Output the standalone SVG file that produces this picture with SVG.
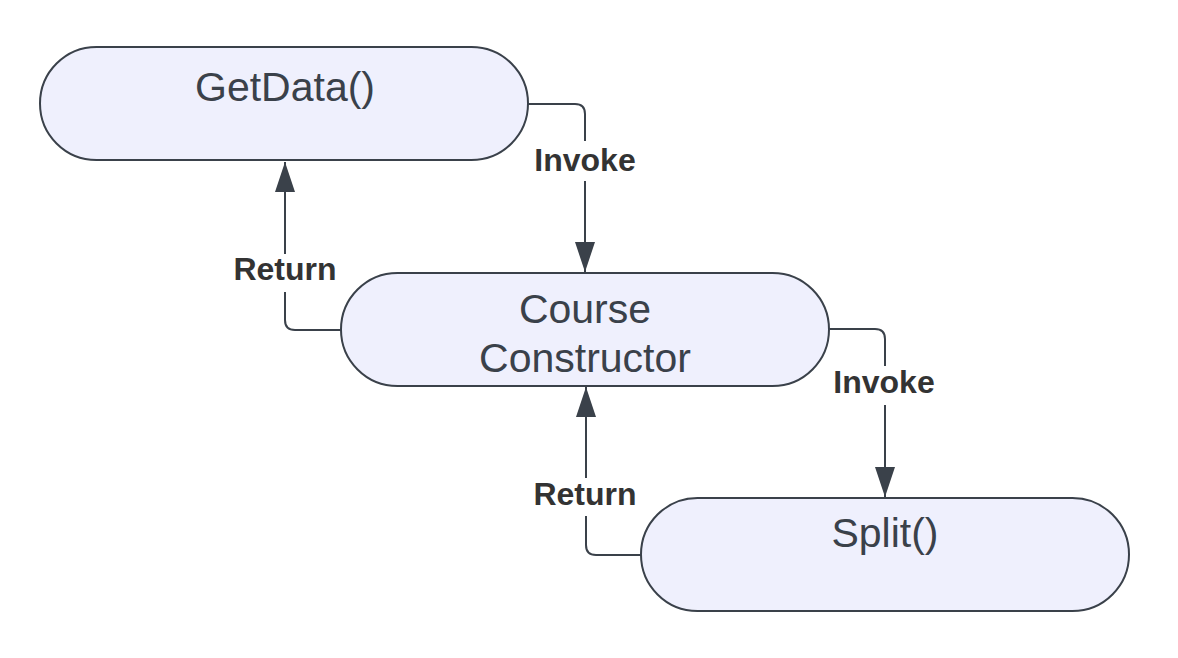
<svg xmlns="http://www.w3.org/2000/svg" width="1178" height="658" viewBox="0 0 1178 658">
<style>
.node{fill:#eff0fd;stroke:#3a414a;stroke-width:2}
.ntext{font-family:"Liberation Sans",Arial,sans-serif;font-size:41px;fill:#3a414a;text-anchor:middle}
.edge{fill:none;stroke:#3a414a;stroke-width:2}
.lbg{fill:#ffffff}
.ltext{font-family:"Liberation Sans",Arial,sans-serif;font-size:32px;font-weight:bold;fill:#333333;text-anchor:middle}
</style>
<defs>
<marker id="arrow" viewBox="0 0 30 20" refX="30" refY="10" markerWidth="30" markerHeight="20" markerUnits="userSpaceOnUse" orient="auto">
<path d="M0,0 L30,10 L0,20 Z" fill="#3a414a"/>
</marker>
</defs>
<rect width="1178" height="658" fill="#ffffff"/>
<g id="connectors">
<path class="edge" d="M528,104 H575 Q585,104 585,114 V272" marker-end="url(#arrow)"/>
<path class="edge" d="M341,330 H295 Q285,330 285,320 V162" marker-end="url(#arrow)"/>
<path class="edge" d="M829,329 H875 Q885,329 885,339 V497" marker-end="url(#arrow)"/>
<path class="edge" d="M641,555 H596 Q586,555 586,545 V387" marker-end="url(#arrow)"/>
<rect class="lbg" x="530" y="141" width="110" height="40"/>
<text class="ltext" x="585" y="171">Invoke</text>
<rect class="lbg" x="228" y="254" width="114" height="38"/>
<text class="ltext" x="285" y="280">Return</text>
<rect class="lbg" x="830" y="366" width="110" height="39"/>
<text class="ltext" x="884" y="393">Invoke</text>
<rect class="lbg" x="529" y="478" width="114" height="38"/>
<text class="ltext" x="585" y="505">Return</text>
</g>
<g id="getdata">
<rect class="node" x="40" y="47" width="488" height="113" rx="56.5" ry="56.5"/>
<text class="ntext" x="285" y="101">GetData()</text>
</g>
<g id="course-constructor">
<rect class="node" x="341" y="273" width="488" height="113" rx="56.5" ry="56.5"/>
<text class="ntext" x="585" y="323">Course</text>
<text class="ntext" x="585" y="372">Constructor</text>
</g>
<g id="split">
<rect class="node" x="641" y="498" width="488" height="113" rx="56.5" ry="56.5"/>
<text class="ntext" x="885" y="547">Split()</text>
</g>
</svg>
